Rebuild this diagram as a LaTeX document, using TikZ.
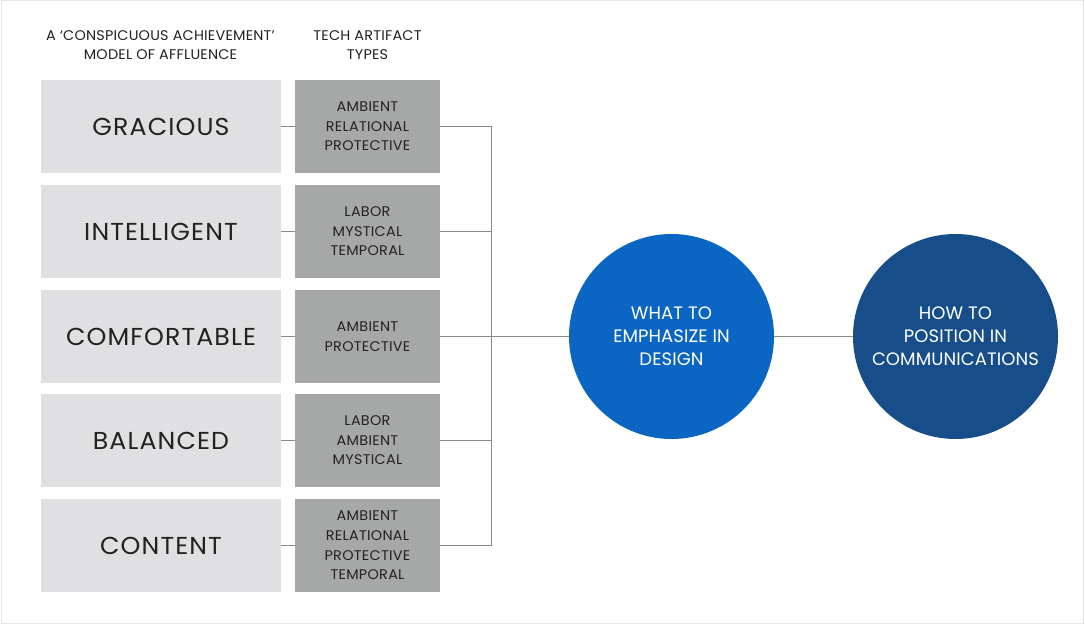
\documentclass[tikz,border=0pt]{standalone}
\usepackage{fontspec}
\setmainfont{Poppins}
\definecolor{leftfill}{HTML}{E0E0E2}
\definecolor{typefill}{HTML}{A6A8A7}
\definecolor{inkdark}{HTML}{222222}
\definecolor{blueA}{HTML}{0A66C2}
\definecolor{blueB}{HTML}{174E89}
\definecolor{wire}{HTML}{8A8A8A}
\definecolor{frame}{HTML}{E6E6E6}
\begin{document}
\begin{tikzpicture}[x=1pt,y=-1pt,
  header/.style={align=center,text=inkdark,inner sep=0pt,
    font=\fontsize{14}{19}\selectfont\addfontfeatures{LetterSpace=1.5,FakeStretch=1.03}},
  modelbox/.style={fill=leftfill,minimum width=240pt,minimum height=93pt,inner sep=0pt,
    text=inkdark,font=\fontsize{24.5}{28}\selectfont\addfontfeatures{LetterSpace=4.5,FakeStretch=1.03}},
  typebox/.style={fill=typefill,minimum width=145pt,minimum height=93pt,inner sep=0pt,
    align=center,text=inkdark,font=\fontsize{14}{19.6}\selectfont\addfontfeatures{LetterSpace=2,FakeStretch=1.03}},
  bubble/.style={circle,minimum size=205pt,inner sep=0pt,align=center,text=white,
    font=\fontsize{18}{23}\selectfont\addfontfeatures{LetterSpace=0.5}},
  conn/.style={draw=wire,line width=0.9pt}]
\useasboundingbox (0,0) rectangle (1085,624);
\draw[frame,line width=1pt] (1.5,0.5) rectangle (1083.5,623.5);

% column headers
\node[header] (h1) at (160.5,45.5) {A ‘CONSPICUOUS ACHIEVEMENT’\\MODEL OF AFFLUENCE};
\node[header] (h2) at (367.5,45.5) {TECH ARTIFACT\\TYPES};

% affluence models
\node[modelbox] (m1) at (161,126.5) {GRACIOUS};
\node[modelbox] (m2) at (161,231.5) {INTELLIGENT};
\node[modelbox] (m3) at (161,336.5) {COMFORTABLE};
\node[modelbox] (m4) at (161,440.5) {BALANCED};
\node[modelbox] (m5) at (161,545.5) {CONTENT};

% artifact types
\node[typebox] (t1) at (367.5,126.5) {AMBIENT\\RELATIONAL\\PROTECTIVE};
\node[typebox] (t2) at (367.5,231.5) {LABOR\\MYSTICAL\\TEMPORAL};
\node[typebox] (t3) at (367.5,336.5) {AMBIENT\\PROTECTIVE};
\node[typebox] (t4) at (367.5,440.5) {LABOR\\AMBIENT\\MYSTICAL};
\node[typebox] (t5) at (367.5,545.5) {AMBIENT\\RELATIONAL\\PROTECTIVE\\TEMPORAL};

% outcome circles
\node[bubble,fill=blueA] (c1) at (671.5,336.5) {WHAT TO\\EMPHASIZE IN\\DESIGN};
\node[bubble,fill=blueB] (c2) at (955.5,336.5) {HOW TO\\POSITION IN\\COMMUNICATIONS};

% connectors
\coordinate (bus) at (491,0);
\foreach \i in {1,...,5} {\draw[conn] (m\i.east) -- (t\i.west);}
\draw[conn] (t1.east) -- (t1.east -| bus) -- (t5.east -| bus) -- (t5.east);
\draw[conn] (t2.east) -- (t2.east -| bus);
\draw[conn] (t4.east) -- (t4.east -| bus);
\draw[conn] (t3.east) -- (c1.west);
\draw[conn] (c1.east) -- (c2.west);
\end{tikzpicture}
\end{document}
